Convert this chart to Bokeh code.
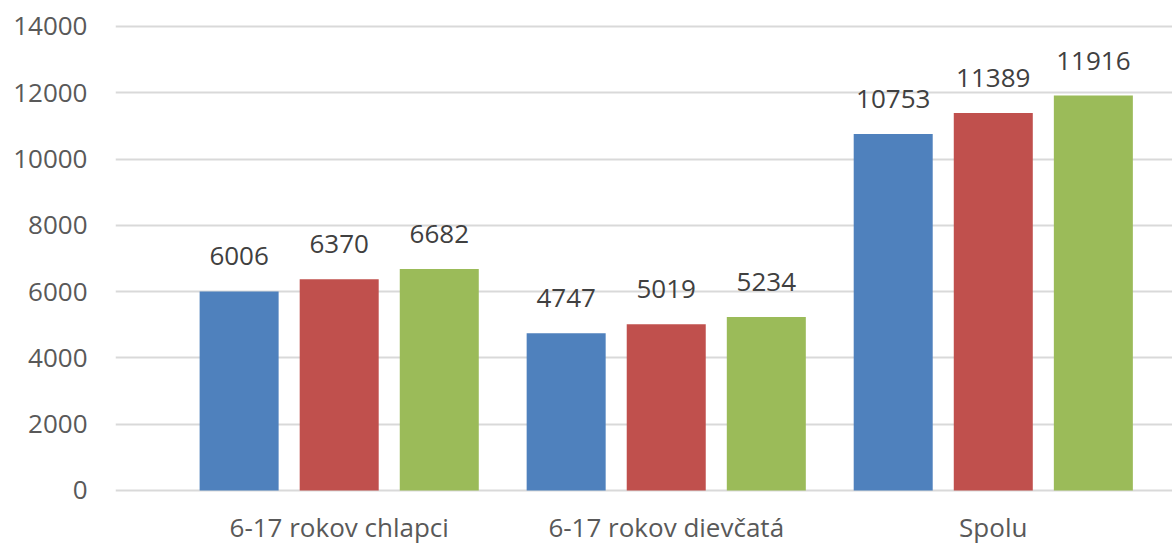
from bokeh.plotting import figure
from bokeh.models import ColumnDataSource, Range1d, FixedTicker, LabelSet
from bokeh.transform import dodge
from bokeh.core.properties import value
from bokeh.embed import file_html
from bokeh.resources import INLINE

categories = ["6-17 rokov chlapci", "6-17 rokov dievčatá", "Spolu"]
series1 = [6006, 4747, 10753]
series2 = [6370, 5019, 11389]
series3 = [6682, 5234, 11916]
y_ticks = [0, 2000, 4000, 6000, 8000, 10000, 12000, 14000]

colors = ["#4F81BD", "#C0504D", "#9BBB59"]
FONT = "Open Sans"

idx = list(range(len(categories)))
src = ColumnDataSource(dict(x=idx, zero=[0] * len(idx), cat=categories,
                            s1=series1, s2=series2, s3=series3,
                            l1=[str(v) for v in series1],
                            l2=[str(v) for v in series2],
                            l3=[str(v) for v in series3]))

# frame runs to the bottom of the canvas so the category labels sit inside it
p = figure(width=1172, height=546, output_backend="svg", toolbar_location=None,
           x_range=Range1d(-0.684, 2.548), y_range=Range1d(-1690, 14181),
           min_border_left=115, min_border_right=0, min_border_top=20, min_border_bottom=0)
p.outline_line_color = None
p.background_fill_color = "white"
p.border_fill_color = "white"

offsets = [-0.306, 0.0, 0.306]
width = 0.2416
for key, lab, col, off in zip(["s1", "s2", "s3"], ["l1", "l2", "l3"], colors, offsets):
    p.vbar(x=dodge("x", off), top=key, width=width, source=src,
           fill_color=col, line_color=None)
    labels = LabelSet(x=dodge("x", off), y=key, text=lab, source=src,
                      text_align="center", text_baseline="alphabetic", y_offset=26,
                      text_font=value(FONT), text_font_size="26px", text_color="#404040")
    p.add_layout(labels)

# category labels below the zero line
cat_labels = LabelSet(x="x", y="zero", text="cat", source=src,
                      text_align="center", text_baseline="alphabetic", y_offset=-47,
                      text_font=value(FONT), text_font_size="26px", text_color="#595959")
p.add_layout(cat_labels)

p.xgrid.visible = False
p.ygrid.grid_line_color = "#d9d9d9"
p.ygrid.grid_line_width = 2
p.yaxis.ticker = FixedTicker(ticks=y_ticks)
p.xaxis.visible = False

ax = p.yaxis[0]
ax.axis_line_color = None
ax.major_tick_line_color = None
ax.minor_tick_line_color = None
ax.major_label_text_font = FONT
ax.major_label_text_font_size = "26px"
ax.major_label_text_color = "#595959"
ax.major_label_standoff = 22

open("out.html", "w").write(file_html(p, INLINE))
